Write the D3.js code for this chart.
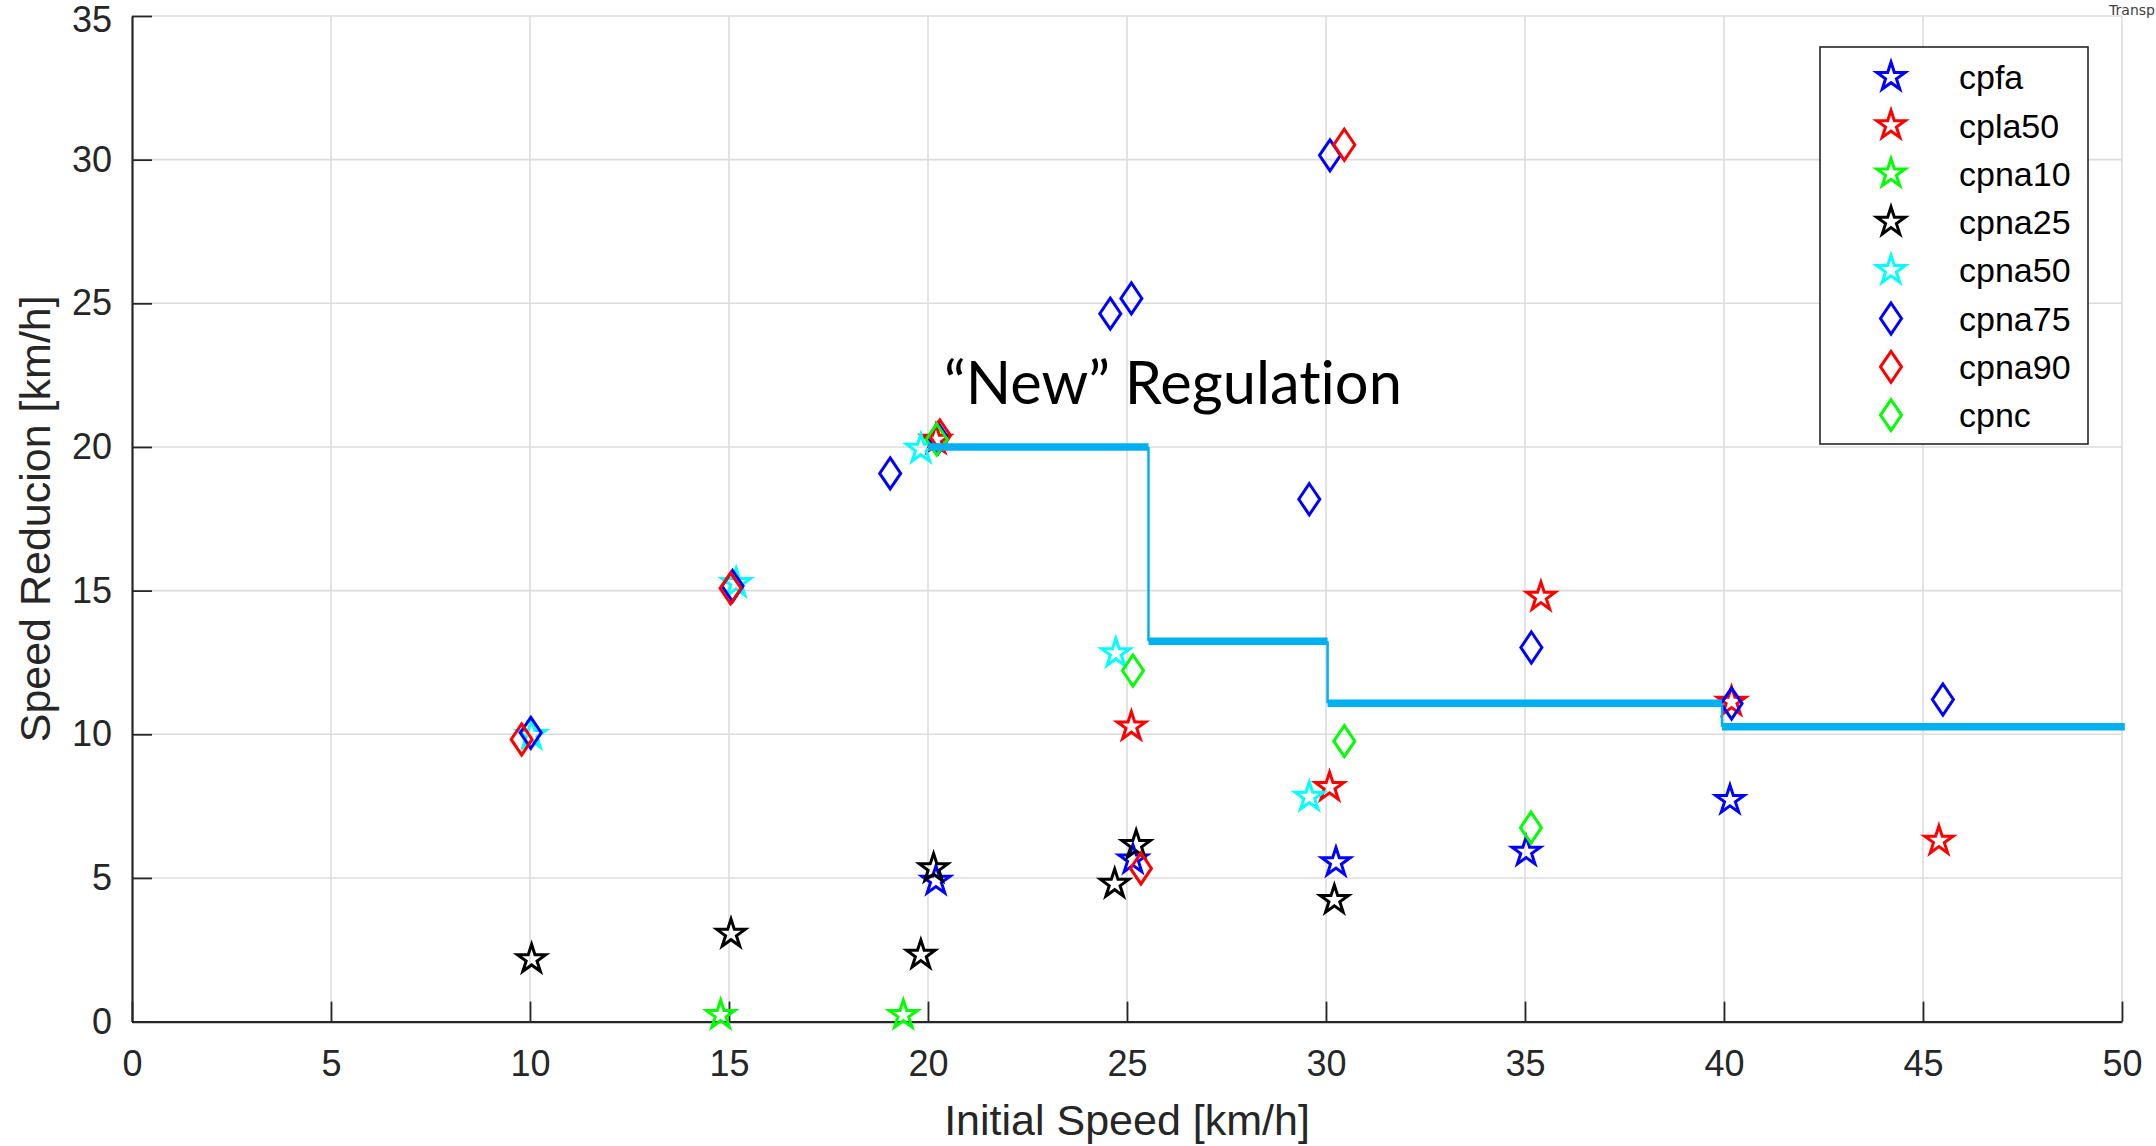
<!DOCTYPE html>
<html>
<head>
<meta charset="utf-8">
<script src="https://cdn.jsdelivr.net/npm/d3@7"></script>
<style>
  html, body { margin: 0; padding: 0; background: #fff; }
  svg { display: block; }
</style>
</head>
<body>
<div id="chart"></div>
<script>
/**
 * Data
 */
const seriesNames = ["cpfa", "cpla50", "cpna10", "cpna25", "cpna50", "cpna75", "cpna90", "cpnc"];

const cpfaX = [20.2, 25.15, 30.25, 35.03, 40.15];
const cpfaY = [4.90, 5.64, 5.54, 5.91, 7.71];

const cpla50X = [20.2, 25.11, 30.09, 35.40, 40.19, 45.4];
const cpla50Y = [20.25, 10.27, 8.16, 14.78, 11.13, 6.29];

const cpna10X = [14.79, 19.38];
const cpna10Y = [0.23, 0.23];

const cpna25X = [10.04, 15.05, 19.82, 20.14, 24.69, 25.23, 30.21];
const cpna25Y = [2.17, 3.05, 2.32, 5.33, 4.79, 6.14, 4.23];

const cpna50X = [10.04, 15.18, 19.82, 24.72, 29.58];
const cpna50Y = [9.97, 15.26, 19.93, 12.82, 7.82];

const cpna75X = [10.02, 15.09, 19.05, 20.25, 24.58, 25.11, 29.58, 30.10, 35.16, 40.19, 45.5];
const cpna75Y = [10.05, 15.16, 19.08, 20.30, 24.64, 25.17, 18.18, 30.15, 13.02, 11.07, 11.21];

const cpna90X = [9.79, 15.04, 20.3, 25.35, 30.46];
const cpna90Y = [9.82, 15.08, 20.4, 5.33, 30.52];

const cpncX = [20.22, 25.15, 30.46, 35.15];
const cpncY = [20.26, 12.22, 9.76, 6.75];

// "New" regulation step line
const regBreaks = [20, 25.54, 30.04, 39.95, 50.07];
const regLevels = [20, 13.24, 11.08, 10.26];

const xTicks = [0, 5, 10, 15, 20, 25, 30, 35, 40, 45, 50];
const yTicks = [0, 5, 10, 15, 20, 25, 30, 35];

/**
 * Basic Settings
 */
const canvasWidth = 2156;
const canvasHeight = 1146;
const plotLeft = 132, plotRight = 2122, plotTop = 16, plotBottom = 1021.6;
const axisColor = "#262626";
const font = "'Liberation Sans', Arial, Helvetica, sans-serif";

const series = [
  { name: seriesNames[0], xs: cpfaX, ys: cpfaY, color: "#0000ff", shape: "star" },
  { name: seriesNames[1], xs: cpla50X, ys: cpla50Y, color: "#ff0000", shape: "star" },
  { name: seriesNames[2], xs: cpna10X, ys: cpna10Y, color: "#00ff00", shape: "star" },
  { name: seriesNames[3], xs: cpna25X, ys: cpna25Y, color: "#000000", shape: "star" },
  { name: seriesNames[4], xs: cpna50X, ys: cpna50Y, color: "#00ffff", shape: "star" },
  { name: seriesNames[5], xs: cpna75X, ys: cpna75Y, color: "#0000ff", shape: "diamond" },
  { name: seriesNames[6], xs: cpna90X, ys: cpna90Y, color: "#ff0000", shape: "diamond" },
  { name: seriesNames[7], xs: cpncX, ys: cpncY, color: "#00ff00", shape: "diamond" }
];

const starPath = d3.symbol().type(d3.symbolStar).size(250)();
const diamondPath = "M0,-15.5L10.5,0L0,15.5L-10.5,0Z";
function markerPath(shape) {
  return shape === "star" ? starPath : diamondPath;
}

/**
 * Draw Chart
 */
const svg = d3.select("#chart")
  .append("svg")
  .attr("width", canvasWidth)
  .attr("height", canvasHeight)
  .style("background", "#ffffff");

const x = d3.scaleLinear().domain([0, 50]).range([plotLeft, plotRight]);
const y = d3.scaleLinear().domain([0, 35]).range([plotBottom, plotTop]);

// grid
const grid = svg.append("g");
grid.selectAll("line.vx")
  .data(xTicks.slice(1))
  .join("line")
  .attr("x1", d => x(d)).attr("x2", d => x(d))
  .attr("y1", plotTop).attr("y2", plotBottom)
  .attr("stroke", "#dcdcdc")
  .attr("stroke-width", 1.6);
grid.selectAll("line.hy")
  .data(yTicks.slice(1))
  .join("line")
  .attr("class", "hy")
  .attr("x1", plotLeft).attr("x2", plotRight)
  .attr("y1", d => y(d)).attr("y2", d => y(d))
  .attr("stroke", "#dcdcdc")
  .attr("stroke-width", 1.6);

// axes with inward ticks
const xAxis = svg.append("g")
  .attr("transform", `translate(0, ${plotBottom})`)
  .call(d3.axisBottom(x).tickValues(xTicks).tickSize(-20).tickPadding(29).tickSizeOuter(0));
const yAxis = svg.append("g")
  .attr("transform", `translate(${plotLeft}, 0)`)
  .call(d3.axisLeft(y).tickValues(yTicks).tickSize(-20).tickPadding(20).tickSizeOuter(0));

[xAxis, yAxis].forEach(function(a) {
  a.select(".domain").attr("stroke", axisColor).attr("stroke-width", 2.2);
  a.selectAll(".tick line").attr("stroke", axisColor).attr("stroke-width", 1.8);
  a.selectAll(".tick text")
    .attr("fill", axisColor)
    .style("font-family", font)
    .style("font-size", "36px");
});
// keep the top label inside the page
yAxis.selectAll(".tick text").filter(d => d === 35).attr("dy", "0.42em");

// axis titles
svg.append("text")
  .attr("x", (plotLeft + plotRight) / 2)
  .attr("y", 1135)
  .attr("text-anchor", "middle")
  .attr("fill", axisColor)
  .style("font-family", font)
  .style("font-size", "43px")
  .text("Initial Speed [km/h]");

svg.append("text")
  .attr("transform", `translate(50, ${(plotTop + plotBottom) / 2}) rotate(-90)`)
  .attr("text-anchor", "middle")
  .attr("fill", axisColor)
  .style("font-family", font)
  .style("font-size", "43px")
  .text("Speed Reducion [km/h]");

/**
 * Draw markers, series in legend order
 */
series.forEach(function(s) {
  svg.append("g")
    .selectAll("path")
    .data(d3.zip(s.xs, s.ys))
    .join("path")
    .attr("transform", d => `translate(${x(d[0])}, ${y(d[1])})`)
    .attr("d", markerPath(s.shape))
    .attr("fill", "none")
    .attr("stroke", s.color)
    .attr("stroke-width", 3)
    .attr("stroke-linejoin", "miter");
});

/**
 * "New" regulation step line
 */
const reg = svg.append("g");
reg.selectAll("line.h")
  .data(regLevels)
  .join("line")
  .attr("x1", (d, i) => x(regBreaks[i]))
  .attr("x2", (d, i) => x(regBreaks[i + 1]))
  .attr("y1", d => y(d)).attr("y2", d => y(d))
  .attr("stroke", "#00b0f0")
  .attr("stroke-width", 7.5);
reg.selectAll("line.v")
  .data(regLevels.slice(1))
  .join("line")
  .attr("class", "v")
  .attr("x1", (d, i) => x(regBreaks[i + 1]))
  .attr("x2", (d, i) => x(regBreaks[i + 1]))
  .attr("y1", (d, i) => y(regLevels[i]))
  .attr("y2", d => y(d))
  .attr("stroke", "#00b0f0")
  .attr("stroke-width", 2.5);

const regLabel = svg.append("text")
  .attr("x", 944)
  .attr("y", 404)
  .attr("fill", "#000")
  .style("font-family", "Lato, 'Open Sans', sans-serif")
  .style("font-variant-ligatures", "none")
  .style("font-size", "56px")
  .text("\u201CNew\u201D Regulation");
// fit the label to the width it has in the reference
const regW = regLabel.node().getComputedTextLength();
regLabel.style("font-size", (56 * 458 / regW).toFixed(1) + "px");

/**
 * Legend
 */
const legend = svg.append("g");
legend.append("rect")
  .attr("x", 1820).attr("y", 47)
  .attr("width", 268).attr("height", 397)
  .attr("fill", "#fff")
  .attr("stroke", axisColor)
  .attr("stroke-width", 1.6);

const legendRow = legend.selectAll("g.row")
  .data(series)
  .join("g")
  .attr("transform", (d, i) => `translate(1891, ${77 + i * 48.3})`);

legendRow.append("path")
  .attr("d", d => markerPath(d.shape))
  .attr("fill", "none")
  .attr("stroke", d => d.color)
  .attr("stroke-width", 3);

legendRow.append("text")
  .attr("x", 68)
  .attr("dy", "0.36em")
  .attr("fill", "#000")
  .style("font-family", font)
  .style("font-size", "34px")
  .text(d => d.name);

// caption fragment at the page corner (only "Transp" is visible in the reference)
svg.append("text")
  .attr("x", 2155)
  .attr("y", 15)
  .attr("text-anchor", "end")
  .attr("fill", "#404040")
  .style("font-family", "'DejaVu Sans', sans-serif")
  .style("font-size", "14px")
  .text("Transp");
</script>
</body>
</html>
